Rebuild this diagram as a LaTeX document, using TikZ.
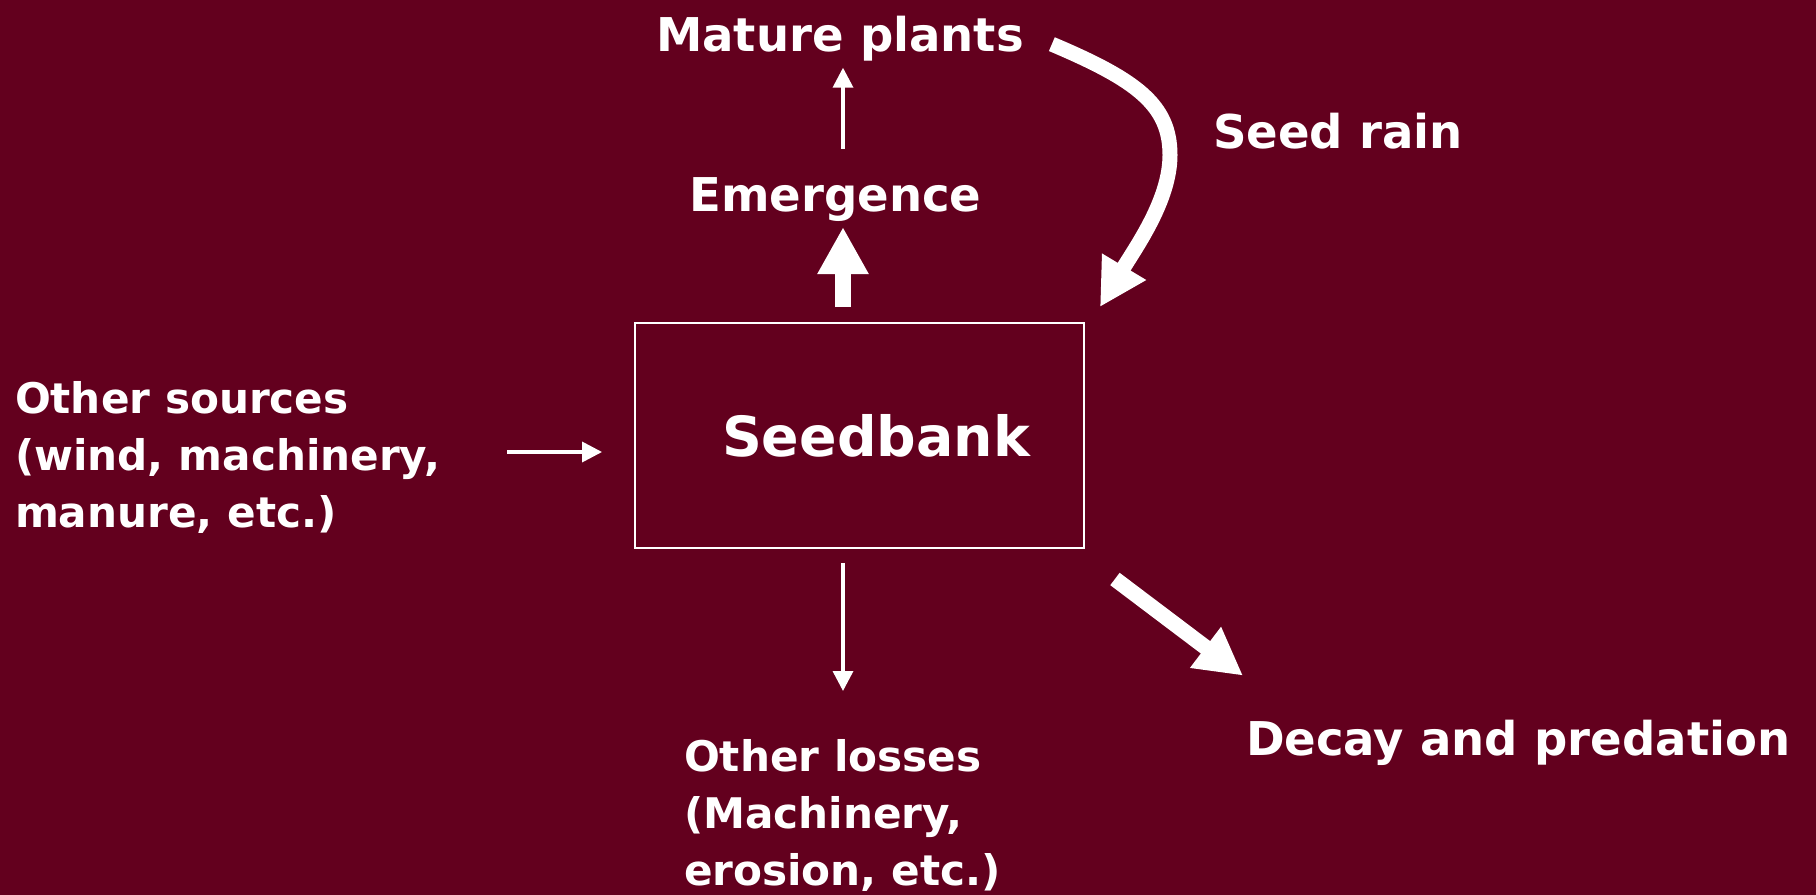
\documentclass[tikz,border=0pt]{standalone}
\usepackage{fontspec}
\setmainfont{DejaVu Sans}
\usepackage{tikz}
\usetikzlibrary{arrows.meta,calc}
\definecolor{bgmaroon}{RGB}{99,0,30}

\begin{document}
\begin{tikzpicture}[x=0.02cm,y=-0.02cm,
    every node/.style={text=white,inner sep=0pt,outer sep=0pt},
    lbl/.style={font=\bfseries\fontsize{26.5}{32}\selectfont},
    sidelbl/.style={font=\bfseries\fontsize{24}{32.6}\selectfont,align=left},
    thinarrow/.style={white,line width=0.07cm,-{Triangle[length=0.4cm,width=0.4cm]}},
    fatarrow/.style={white,line width=0.31cm,-{Triangle[length=0.94cm,width=0.96cm]}}]
    \fill[bgmaroon] (0,0) rectangle (1816,895);
    \useasboundingbox (0,0) rectangle (1816,895);
    \coordinate (axis) at (843,0);
    \coordinate (bend) at (1170,155);
    \coordinate (inlet) at (507,452);
    \node[draw=white,line width=0.04cm,minimum width=8.98cm,minimum height=4.5cm,
        font=\bfseries\fontsize{31.5}{36}\selectfont] (bank) at (859.5,435.5) {\hspace*{0.66cm}Seedbank};
    \node[lbl,anchor=base] (mature) at (840,52) {Mature plants};
    \node[lbl,anchor=base] (emerg) at (835.5,212) {Emergence};
    \node[lbl,anchor=base west] (rain) at (1213,149) {Seed rain};
    \node[lbl,anchor=base west] (decay) at (1246,755) {Decay and predation};
    \node[sidelbl,anchor=north west] (sources) at (15,381) {Other sources\\(wind, machinery,\\manure, etc.)};
    \node[sidelbl,anchor=north west] (losses) at (684,739) {Other losses\\(Machinery,\\erosion, etc.)};
    \draw[fatarrow,shorten <=0.32cm,shorten >=0.1cm] (bank.north -| axis) -- (emerg.south -| axis);
    \draw[thinarrow,shorten <=0.59cm,shorten >=0.12cm] (emerg.north -| axis) -- (mature.south -| axis);
    \draw[thinarrow,shorten <=0.3cm,shorten >=0.96cm] (bank.south -| axis) -- (losses.north -| axis);
    \draw[thinarrow,shorten >=0.66cm] (inlet) -- (inlet -| bank.west);
    \draw[fatarrow,line width=0.3cm] ([shift={(28,5)}]mature.east) .. controls +(85,36) and +(0,-50) .. (bend)
        .. controls +(0,45) and +(36,-60) .. ([shift={(16,-16)}]bank.north east);
    \draw[fatarrow] ([shift={(31,31)}]bank.south east) -- ([shift={(-3,-44)}]decay.north west);
\end{tikzpicture}
\end{document}
